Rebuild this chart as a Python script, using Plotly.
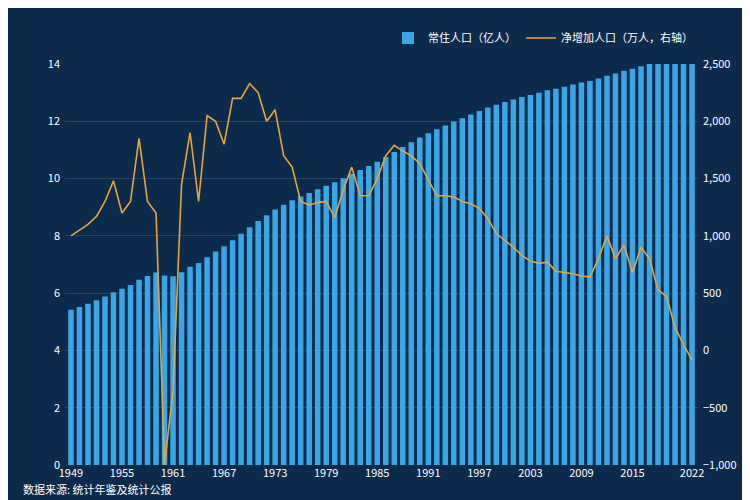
import plotly.graph_objects as go

years = list(range(1949, 2023))
population = [5.42,5.52,5.63,5.75,5.88,6.03,6.15,6.28,6.47,6.60,6.72,6.62,6.59,6.73,6.92,7.05,7.25,7.45,7.64,7.85,8.07,8.30,8.52,8.72,8.92,9.09,9.24,9.37,9.50,9.63,9.75,9.87,10.01,10.17,10.30,10.44,10.59,10.75,10.93,11.10,11.27,11.43,11.58,11.72,11.85,11.99,12.11,12.24,12.36,12.48,12.58,12.67,12.76,12.85,12.92,13.00,13.08,13.14,13.21,13.28,13.35,13.41,13.49,13.59,13.67,13.76,13.83,13.92,14.00,14.05,14.10,14.12,14.13,14.12]
net_increase = [1000,1050,1100,1170,1300,1480,1200,1300,1850,1300,1200,-1000,-350,1450,1900,1300,2050,2000,1800,2200,2200,2330,2250,2000,2100,1700,1600,1300,1270,1290,1300,1160,1400,1600,1350,1350,1500,1700,1790,1740,1700,1630,1490,1350,1350,1340,1300,1280,1240,1150,1020,960,900,830,780,760,770,690,680,670,650,640,800,1000,800,920,680,900,800,530,470,200,50,-85]
tick_years = [1949,1955,1961,1967,1973,1979,1985,1991,1997,2003,2009,2015,2022]

fig = go.Figure()
fig.add_bar(x=years, y=population, name="常住人口（亿人）", marker_color="#3aa6e6", marker_line_width=0)
fig.add_scatter(x=years, y=net_increase, name="净增加人口（万人，右轴）", yaxis="y2",
                mode="lines", line=dict(color="#e8a43c", width=1.6))
fig.update_layout(
    width=750, height=500, paper_bgcolor="#0c2a4c", plot_bgcolor="#0c2a4c",
    font=dict(family="Noto Sans CJK SC", color="white", size=11),
    margin=dict(l=57, r=60, t=56, b=43), bargap=0.35,
    legend=dict(orientation="h", x=1, xanchor="right", y=1.065, yanchor="middle", font=dict(size=11)),
    xaxis=dict(tickvals=tick_years, range=[1948.3, 2022.7], showgrid=False, ticks="", color="white"),
    yaxis=dict(range=[0, 14], dtick=2, gridcolor="rgba(255,255,255,0.12)", zeroline=False,
               ticklabelstandoff=4),
    yaxis2=dict(overlaying="y", side="right", range=[-1000, 2500], dtick=500, showgrid=False,
                zeroline=False, tickformat=",", ticklabelstandoff=4),
    annotations=[dict(text="数据来源: 统计年鉴及统计公报", x=-0.07, y=-0.06, xref="paper", yref="paper",
                      xanchor="left", yanchor="middle", showarrow=False, font=dict(size=11))],
)
fig.write_html("out.html")
